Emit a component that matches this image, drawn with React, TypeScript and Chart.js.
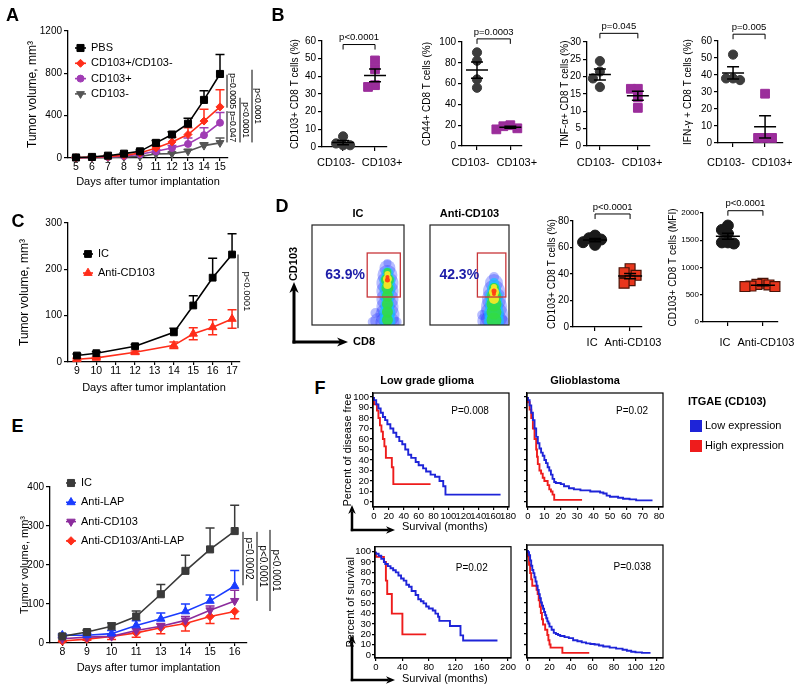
import React, { useEffect, useRef } from 'react';
import { Chart, registerables } from 'chart.js';

Chart.register(...registerables);

const FONT = '"Liberation Sans", Arial, Helvetica, sans-serif';
Chart.defaults.font.family = FONT;
Chart.defaults.color = '#000';

// ======================= DATA =======================
// ---- Panel A ----
const A_days = ['5', '6', '7', '8', '9', '11', '12', '13', '14', '15'];
const A_groups = ['PBS', 'CD103+/CD103-', 'CD103+', 'CD103-'];
const A_pbs = [5, 10, 22, 41, 63, 143, 222, 324, 549, 794];
const A_pbsErr = [3, 4, 6, 9, 12, 22, 26, 51, 86, 184];
const A_mix = [3, 8, 15, 25, 48, 95, 152, 222, 349, 483];
const A_mixErr = [2, 3, 5, 7, 10, 18, 45, 64, 111, 161];
const A_pos = [2, 5, 10, 18, 35, 63, 95, 133, 216, 333];
const A_posErr = [1, 2, 4, 6, 8, 15, 22, 57, 70, 96];
const A_neg = [2, 3, 5, 9, 15, 38, 41, 63, 117, 143];
const A_negErr = [1, 1, 2, 3, 4, 8, 10, 17, 26, 47];
const A_pText = ['p=0.0005', 'p=0.047', 'p<0.0001', 'p<0.0001'];
const A_pFrom = [787, 443, 569, 834];
const A_pTo = [475, 147, 147, 147];

// ---- Panel B ----
const B_cats = ['CD103-', 'CD103+'];
const B_titles = ['CD103+ CD8 T cells (%)', 'CD44+ CD8 T cells (%)', 'TNF-α+ CD8 T cells (%)', 'IFN-γ + CD8 T cells (%)'];
const B1_neg = [6, 2, 1, 1];
const B1_pos = [49, 44, 35, 34];
const B2_neg = [90, 82, 64, 56];
const B2_pos = [20, 19, 17, 16];
const B3_neg = [24.5, 21.5, 19.5, 17];
const B3_pos = [16.5, 16.5, 14, 11];
const B4_neg = [52, 38, 37, 38];
const B4_pos = [29, 3, 3, 3];
const B_pText = ['p<0.0001', 'p=0.0003', 'p=0.045', 'p=0.005'];
const B_bracket = [58, 103, 32.5, 64];
const B_yMax = [60, 100, 30, 60];
const B_yStep = [10, 20, 5, 10];

// ---- Panel C ----
const C_groups = ['IC', 'Anti-CD103'];
const C_days = [9, 10, 12, 14, 15, 16, 17];
const C_ticks = [9, 10, 11, 12, 13, 14, 15, 16, 17];
const C_ic = [14, 19, 34, 64, 122, 182, 232];
const C_icErr = [3, 3, 4, 9, 21, 42, 45];
const C_anti = [6, 9, 21, 36, 61, 75, 93];
const C_antiErr = [2, 2, 3, 7, 13, 16, 20];
const C_pText = ['p<0.0001'];
const C_pFrom = [232];
const C_pTo = [73];

// ---- Panel D ----
const D_cats = ['IC', 'Anti-CD103'];
const D_titles = ['CD103+ CD8 T cells (%)', 'CD103+ CD8 T cells (MFI)'];
const D1_ic = [69, 67, 66, 64, 62];
const D1_anti = [44, 41, 39, 35, 33];
const D2_ic = [1770, 1690, 1620, 1460, 1440, 1460];
const D2_anti = [710, 690, 680, 660, 650, 650];
const D_pText = ['p<0.0001', 'p<0.0001'];
const D_bracket = [85.3, 2042];
const D_flowTitles = ['IC', 'Anti-CD103'];
const D_flowPct = ['63.9%', '42.3%'];
const D_axisNames = ['CD103', 'CD8'];
// flow density layers: [CD8, CD103, radius]
const FIC_blue = [[82, 2, 12], [82, 10, 12], [82, 18, 11], [82, 26, 11], [82, 34, 11], [82, 42, 11], [82, 50, 10], [82, 57, 8], [82, 62, 4], [72, 4, 8], [69, 12, 5], [66, 3, 5], [92, 3, 5]];
const FIC_cyan = [[82, 4, 8], [82, 12, 8], [82, 20, 7], [82, 28, 7], [82, 36, 8], [82, 44, 8], [82, 52, 6]];
const FIC_green = [[82, 5, 5.5], [82, 13, 5.5], [82, 21, 5.5], [82, 29, 5.5], [82, 37, 6], [82, 45, 6.5], [82, 53, 4]];
const FIC_yellow = [[82, 40, 4], [82, 46, 4.5], [82, 51, 3]];
const FIC_red = [[82, 45, 2.5], [82, 48, 2]];
const FAN_blue = [[81, 2, 14], [81, 10, 14], [81, 18, 13], [81, 26, 12], [81, 34, 11], [81, 42, 9], [81, 48, 5], [70, 4, 8], [66, 10, 5], [92, 4, 6]];
const FAN_cyan = [[81, 4, 10], [81, 12, 10], [81, 20, 9], [81, 28, 9], [81, 36, 7], [81, 42, 5]];
const FAN_green = [[81, 5, 7.5], [81, 13, 7.5], [81, 21, 7.5], [81, 29, 7], [81, 37, 5]];
const FAN_yellow = [[81, 26, 5], [81, 33, 5], [81, 38, 3]];
const FAN_red = [[81, 34, 2.5], [81, 31, 2]];
const FIC_gate = [60, 96, 28, 72];
const FAN_gate = [60, 96, 28, 72];
const FIC_pctPos = [36, 50];
const FAN_pctPos = [37, 50];

// ---- Panel E ----
const E_days = ['8', '9', '10', '11', '13', '14', '15', '16'];
const E_groups = ['IC', 'Anti-LAP', 'Anti-CD103', 'Anti-CD103/Anti-LAP'];
const E_ic = [17, 28, 43, 68, 125, 185, 240, 287];
const E_icErr = [3, 5, 8, 14, 25, 40, 55, 66];
const E_lap = [20, 20, 24, 45, 62, 81, 108, 146];
const E_lapErr = [3, 5, 8, 12, 15, 19, 15, 40];
const E_cd = [11, 15, 17, 32, 43, 58, 84, 108];
const E_cdErr = [2, 3, 4, 5, 7, 10, 11, 27];
const E_combo = [5, 10, 17, 26, 39, 50, 68, 81];
const E_comboErr = [2, 3, 8, 11, 15, 19, 18, 19];
const E_pText = ['p=0.0002', 'p<0.0001', 'p<0.0001'];
const E_pFrom = [285, 285, 290];
const E_pTo = [148, 108, 82];

// ---- Panel F (Kaplan-Meier: [months, percent]) ----
const F_groups = ['Low expression', 'High expression'];
const F_legendTitle = 'ITGAE (CD103)';
const F_titles = ['Low grade glioma', 'Glioblastoma'];
const F_yTitles = ['Percent of disease free', 'Percent of survival'];
const F_xTitle = 'Survival (months)';
const F_pText = ['P=0.008', 'P=0.02', 'P=0.02', 'P=0.038'];
const F_pPos = [[129, 86], [63.5, 86], [145, 84], [97, 84]];
const F_yTicks = [0, 10, 20, 30, 40, 50, 60, 70, 80, 90, 100];
const F1_xTicks = [0, 20, 40, 60, 80, 100, 120, 140, 160, 180];
const F2_xTicks = [0, 10, 20, 30, 40, 50, 60, 70, 80];
const F3_xTicks = [0, 40, 80, 120, 160, 200];
const F4_xTicks = [0, 20, 40, 60, 80, 100, 120];
const F1_low = [[0, 100], [3, 97], [6, 93], [9, 89], [12, 85], [15, 81], [18, 78], [22, 74], [26, 70], [30, 66], [34, 62], [38, 58], [42, 55], [46, 50], [50, 45], [56, 42], [60, 38], [66, 35], [70, 32], [76, 29], [82, 26], [88, 24], [93, 20], [96, 15], [135, 7], [170, 7]];
const F1_high = [[0, 100], [4, 93], [6, 87], [8, 80], [10, 73], [12, 67], [14, 60], [16, 53], [24, 42], [26, 33], [35, 17], [76, 17]];
const F2_low = [[0, 100], [1, 97], [2, 92], [3, 85], [4, 78], [5, 70], [6, 62], [7, 56], [8, 51], [9, 47], [10, 44], [11, 40], [12, 37], [13, 33], [14, 30], [15, 26], [16, 22], [17, 19], [20, 18], [22, 17], [25, 15], [28, 13], [32, 12], [38, 11], [44, 10], [46, 9], [48, 8], [50, 6], [55, 5], [58, 4], [62, 3], [66, 2.5], [75, 1.5], [76, 1.5]];
const F2_high = [[0, 100], [1, 95], [2, 88], [3, 80], [4, 70], [5, 60], [5.5, 50], [6, 43], [7, 36], [8, 30], [9, 27], [10, 23], [12, 20], [13, 16], [14, 12], [15, 10], [16, 7], [33, 2]];
const F3_low = [[0, 100], [4, 98], [8, 96], [12, 93], [14, 90], [18, 88], [22, 86], [26, 84], [30, 82], [34, 80], [38, 77], [42, 74], [46, 72], [50, 68], [54, 66], [60, 62], [64, 58], [68, 54], [72, 52], [76, 50], [80, 47], [86, 45], [90, 43], [94, 40], [96, 37], [112, 33], [128, 28], [132, 19], [152, 14], [184, 14]];
const F3_high = [[0, 100], [12, 95], [15, 90], [17, 72], [24, 59], [40, 40], [43, 20], [76, 20]];
const F4_low = [[0, 100], [1, 98], [2, 95], [3, 90], [4, 85], [5, 81], [6, 78], [7, 74], [8, 70], [9, 66], [10, 62], [11, 58], [12, 54], [13, 50], [14, 47], [15, 44], [16, 41], [17, 38], [18, 35], [19, 32], [20, 30], [22, 27], [24, 24], [26, 21], [28, 20], [30, 19], [34, 18], [38, 17], [42, 16], [46, 14], [50, 13], [54, 12], [58, 11], [62, 10.5], [66, 10], [70, 9], [76, 8], [82, 7], [88, 6], [92, 5], [96, 4], [100, 3], [106, 2.5], [114, 2]];
const F4_high = [[0, 100], [1, 94], [2, 86], [3, 78], [4, 72], [8, 66], [9, 62], [10, 58], [11, 52], [12, 46], [13, 40], [14, 34], [16, 29], [18, 24], [19, 19], [20, 14], [21, 10], [32, 7], [57, 2]];

const PANEL_LETTERS = ['A', 'B', 'C', 'D', 'E', 'F'];

// ======================= HELPERS =======================
function merge(a: any, b: any): any {
  const out: any = { ...a };
  for (const k of Object.keys(b)) {
    const bv = b[k];
    const av = a[k];
    if (bv && typeof bv === 'object' && !Array.isArray(bv) && av && typeof av === 'object' && !Array.isArray(av)) out[k] = merge(av, bv);
    else out[k] = bv;
  }
  return out;
}

function axis(extra: any) {
  return merge(
    {
      grid: { display: true, drawOnChartArea: false, drawTicks: true, tickLength: 4, color: '#000', lineWidth: 1.2 },
      border: { display: true, color: '#000', width: 1.3 },
      ticks: { color: '#000', font: { size: 10 }, autoSkip: false, maxRotation: 0, padding: 2 },
    },
    extra
  );
}

const numFmt = (v: number) => String(v);
const yTitle = (text: string, size: number, pad: number) => ({ display: true, text, color: '#000', font: { size }, padding: { top: pad, bottom: 0 } });
const xTitle = (text: string, size: number, pad: number) => ({ display: true, text, color: '#000', font: { size }, padding: { top: 0, bottom: pad } });

function baseOpts(padding: any, scales: any) {
  return {
    responsive: false,
    maintainAspectRatio: false,
    animation: false,
    devicePixelRatio: 1,
    events: [],
    layout: { padding },
    plugins: { legend: { display: false }, tooltip: { enabled: false } },
    scales,
  };
}

function drawMarker(ctx: any, shape: string, x: number, y: number, r: number, rot: number, color: string) {
  ctx.save();
  ctx.translate(x, y);
  ctx.rotate((rot * Math.PI) / 180);
  ctx.fillStyle = color;
  ctx.strokeStyle = color;
  ctx.lineWidth = 1;
  ctx.beginPath();
  if (shape === 'rect') {
    const s = r * Math.SQRT1_2;
    ctx.rect(-s, -s, 2 * s, 2 * s);
  } else if (shape === 'rectRot') {
    ctx.moveTo(0, -r);
    ctx.lineTo(r, 0);
    ctx.lineTo(0, r);
    ctx.lineTo(-r, 0);
    ctx.closePath();
  } else if (shape === 'triangle') {
    for (let k = 0; k < 3; k++) {
      const a = (k * 2 * Math.PI) / 3;
      const px = Math.sin(a) * r;
      const py = -Math.cos(a) * r;
      if (k) ctx.lineTo(px, py);
      else ctx.moveTo(px, py);
    }
    ctx.closePath();
  } else {
    ctx.arc(0, 0, r, 0, Math.PI * 2);
  }
  ctx.fill();
  ctx.stroke();
  ctx.restore();
}

function arrow(ctx: any, x1: number, y1: number, x2: number, y2: number, lw: number, head: number) {
  const ang = Math.atan2(y2 - y1, x2 - x1);
  const c = Math.cos(ang);
  const s = Math.sin(ang);
  ctx.save();
  ctx.strokeStyle = '#000';
  ctx.fillStyle = '#000';
  ctx.lineWidth = lw;
  ctx.beginPath();
  ctx.moveTo(x1, y1);
  ctx.lineTo(x2 - c * head * 0.7, y2 - s * head * 0.7);
  ctx.stroke();
  ctx.beginPath();
  ctx.moveTo(x2, y2);
  ctx.lineTo(x2 - head * c + head * 0.42 * s, y2 - head * s - head * 0.42 * c);
  ctx.lineTo(x2 - head * 0.7 * c, y2 - head * 0.7 * s);
  ctx.lineTo(x2 - head * c - head * 0.42 * s, y2 - head * s + head * 0.42 * c);
  ctx.closePath();
  ctx.fill();
  ctx.restore();
}

function lineDs(label: string, data: any[], color: string, shape: string, r: number, rot = 0) {
  return {
    label,
    data,
    borderColor: color,
    backgroundColor: color,
    pointBackgroundColor: color,
    pointBorderColor: color,
    pointStyle: shape,
    pointRadius: r,
    pointRotation: rot,
    pointBorderWidth: 1,
    borderWidth: 1.6,
    tension: 0,
    fill: false,
    clip: false,
  };
}

// ---- plugins ----
function errPlugin(errs: any[], cap: number) {
  return {
    id: 'errbars',
    beforeDatasetsDraw(chart: any) {
      const { ctx } = chart;
      const ys = chart.scales.y;
      errs.forEach((e: any, di: number) => {
        const meta = chart.getDatasetMeta(di);
        const ds = chart.data.datasets[di];
        ctx.save();
        ctx.strokeStyle = ds.borderColor;
        ctx.lineWidth = 1.5;
        meta.data.forEach((pt: any, j: number) => {
          const raw = ds.data[j];
          const v = typeof raw === 'number' ? raw : raw.y;
          const pairs: any[] = [[e.up, 1], [e.dn, -1]];
          for (const [arr, sg] of pairs) {
            if (!arr || !arr[j]) continue;
            const ye = ys.getPixelForValue(v + sg * arr[j]);
            ctx.beginPath();
            ctx.moveTo(pt.x, pt.y);
            ctx.lineTo(pt.x, ye);
            ctx.moveTo(pt.x - cap, ye);
            ctx.lineTo(pt.x + cap, ye);
            ctx.stroke();
          }
        });
        ctx.restore();
      });
    },
  };
}

function legendPlugin(dx: number, dy: number, gap: number, lineLen: number) {
  return {
    id: 'plegend',
    afterDraw(chart: any) {
      const { ctx, chartArea } = chart;
      chart.data.datasets.forEach((ds: any, i: number) => {
        const x = chartArea.left + dx;
        const y = chartArea.top + dy + i * gap;
        ctx.save();
        ctx.strokeStyle = ds.borderColor;
        ctx.lineWidth = 1.6;
        ctx.beginPath();
        ctx.moveTo(x, y);
        ctx.lineTo(x + lineLen, y);
        ctx.stroke();
        drawMarker(ctx, ds.pointStyle, x + lineLen / 2, y, ds.pointRadius, ds.pointRotation || 0, ds.borderColor);
        ctx.fillStyle = '#000';
        ctx.font = `11px ${FONT}`;
        ctx.textBaseline = 'middle';
        ctx.textAlign = 'left';
        ctx.fillText(ds.label, x + lineLen + 5, y);
        ctx.restore();
      });
    },
  };
}

function pLinesPlugin(texts: string[], from: number[], to: number[], offs: number[], textOff: number, size: number) {
  return {
    id: 'plines',
    afterDraw(chart: any) {
      const { ctx, chartArea } = chart;
      const ys = chart.scales.y;
      texts.forEach((t, i) => {
        const x = chartArea.right + offs[i];
        const y1 = ys.getPixelForValue(from[i]);
        const y2 = ys.getPixelForValue(to[i]);
        ctx.save();
        ctx.strokeStyle = '#000';
        ctx.lineWidth = 1;
        ctx.beginPath();
        ctx.moveTo(x, y1);
        ctx.lineTo(x, y2);
        ctx.stroke();
        ctx.translate(x + textOff, (y1 + y2) / 2);
        ctx.rotate(Math.PI / 2);
        ctx.font = `${size}px ${FONT}`;
        ctx.fillStyle = '#000';
        ctx.textAlign = 'center';
        ctx.textBaseline = 'middle';
        ctx.fillText(t, 0, 0);
        ctx.restore();
      });
    },
  };
}

function meanSemPlugin(groups: number[][], half: number, capHalf: number) {
  return {
    id: 'meansem',
    afterDatasetsDraw(chart: any) {
      const { ctx } = chart;
      const xs = chart.scales.x;
      const ys = chart.scales.y;
      groups.forEach((vals, gi) => {
        const n = vals.length;
        const m = vals.reduce((a, b) => a + b, 0) / n;
        const sd = Math.sqrt(vals.reduce((a, b) => a + (b - m) * (b - m), 0) / (n - 1));
        const sem = sd / Math.sqrt(n);
        const x = xs.getPixelForValue(gi);
        const ym = ys.getPixelForValue(m);
        const yt = ys.getPixelForValue(m + sem);
        const yb = ys.getPixelForValue(m - sem);
        ctx.save();
        ctx.strokeStyle = '#000';
        ctx.lineWidth = 1.5;
        ctx.beginPath();
        ctx.moveTo(x - half, ym);
        ctx.lineTo(x + half, ym);
        ctx.moveTo(x, yt);
        ctx.lineTo(x, yb);
        ctx.moveTo(x - capHalf, yt);
        ctx.lineTo(x + capHalf, yt);
        ctx.moveTo(x - capHalf, yb);
        ctx.lineTo(x + capHalf, yb);
        ctx.stroke();
        ctx.restore();
      });
    },
  };
}

function bracketPlugin(yVal: number, text: string) {
  return {
    id: 'bracket',
    afterDraw(chart: any) {
      const { ctx } = chart;
      const xs = chart.scales.x;
      const ys = chart.scales.y;
      const x0 = xs.getPixelForValue(0);
      const x1 = xs.getPixelForValue(1);
      const y = ys.getPixelForValue(yVal);
      ctx.save();
      ctx.strokeStyle = '#000';
      ctx.lineWidth = 1;
      ctx.beginPath();
      ctx.moveTo(x0, y + 5);
      ctx.lineTo(x0, y);
      ctx.lineTo(x1, y);
      ctx.lineTo(x1, y + 5);
      ctx.stroke();
      ctx.fillStyle = '#000';
      ctx.font = `9.5px ${FONT}`;
      ctx.textAlign = 'center';
      ctx.textBaseline = 'middle';
      ctx.fillText(text, (x0 + x1) / 2, y - 7);
      ctx.restore();
    },
  };
}

// category labels under a two-group dot plot, pushed apart when they would touch
function catLabelsPlugin(cats: string[], dy: number, gap: number) {
  return {
    id: 'catlabels',
    afterDraw(chart: any) {
      const { ctx, chartArea } = chart;
      const xs = chart.scales.x;
      ctx.save();
      ctx.font = `11px ${FONT}`;
      ctx.fillStyle = '#000';
      ctx.textAlign = 'center';
      ctx.textBaseline = 'middle';
      const x0 = xs.getPixelForValue(0);
      const x1 = xs.getPixelForValue(1);
      const w0 = ctx.measureText(cats[0]).width;
      const w1 = ctx.measureText(cats[1]).width;
      const need = w0 / 2 + w1 / 2 + gap - (x1 - x0);
      const sh = need > 0 ? need / 2 : 0;
      const y = chartArea.bottom + dy;
      ctx.fillText(cats[0], x0 - sh, y);
      ctx.fillText(cats[1], x1 + sh, y);
      ctx.restore();
    },
  };
}

function swarm(vals: number[], tol: number, step: number): number[] {
  const offs = vals.map(() => 0);
  const order = vals.map((_, i) => i).sort((a, b) => vals[b] - vals[a]);
  const done: number[] = [];
  const cands = [0, -1, 1, -2, 2, -3, 3];
  for (const i of order) {
    const near = done.filter((j) => Math.abs(vals[j] - vals[i]) < tol);
    for (const c of cands) {
      if (!near.some((j) => Math.abs(offs[j] - c * step) < step * 0.5)) {
        offs[i] = c * step;
        break;
      }
    }
    done.push(i);
  }
  return offs;
}

function dotConfig(o: any) {
  const plotH = o.h - o.pad.top - o.xH;
  const plotW = o.w - o.yW - o.pad.right;
  const tol = (o.tolPx * o.yMax) / plotH;
  const step = (o.stepPx * (o.xMax - o.xMin)) / plotW;
  const datasets = o.groups.map((vals: number[], gi: number) => {
    const offs = swarm(vals, tol, step);
    const st = o.styles[gi];
    return {
      label: o.cats[gi],
      data: vals.map((v, k) => ({ x: gi + offs[k], y: v })),
      pointStyle: st.shape,
      pointRadius: st.r,
      pointBackgroundColor: st.fill,
      pointBorderColor: st.stroke,
      pointBorderWidth: st.bw,
      backgroundColor: st.fill,
      borderColor: st.stroke,
      clip: false,
    };
  });
  return {
    type: 'scatter',
    data: { datasets },
    options: baseOpts(o.pad, {
      x: axis({
        type: 'linear',
        min: o.xMin,
        max: o.xMax,
        afterBuildTicks: (s: any) => {
          s.ticks = o.cats.map((_: string, i: number) => ({ value: i }));
        },
        ticks: { display: false },
        afterFit: (s: any) => {
          s.height = o.xH;
        },
      }),
      y: axis({
        type: 'linear',
        min: 0,
        max: o.yMax,
        grid: { tickLength: o.yTickLen || 4 },
        ticks: { stepSize: o.yStep, callback: numFmt, padding: o.yTickPad ?? 2, font: { size: o.yTickSize || 10 } },
        title: yTitle(o.title, 10, o.titlePad),
        afterFit: (s: any) => {
          s.width = o.yW;
        },
      }),
    }),
    plugins: [meanSemPlugin(o.groups, o.meanHalf, 6), bracketPlugin(o.bracketY, o.pText), catLabelsPlugin(o.cats, o.labelDy, 7)],
  };
}

const B_circle = { shape: 'circle', r: 4.6, fill: '#3c3c3c', stroke: '#3c3c3c', bw: 1 };
const B_square = { shape: 'rect', r: 6.2, fill: '#9b2d9b', stroke: '#9b2d9b', bw: 1 };
const D_circle = { shape: 'circle', r: 5.5, fill: '#1a1a1a', stroke: '#1a1a1a', bw: 1 };
const D_square = { shape: 'rect', r: 7, fill: '#e8361c', stroke: '#4a1408', bw: 1.2 };

const B_layout = [
  { left: 280, w: 125, yW: 42, padTop: 26, xH: 33, titlePad: 9, labelDy: 16, xMin: -0.66, xMax: 1.375, plotW: 65 },
  { left: 410, w: 130, yW: 52, padTop: 27, xH: 34, titlePad: 11, labelDy: 17, xMin: -0.45, xMax: 1.35, plotW: 60 },
  { left: 545, w: 123, yW: 42, padTop: 27, xH: 34, titlePad: 14, labelDy: 17, xMin: -0.34, xMax: 1.32, plotW: 63 },
  { left: 672, w: 128, yW: 46, padTop: 26, xH: 37, titlePad: 10, labelDy: 20, xMin: -0.47, xMax: 1.56, plotW: 65 },
];
const B_data = [
  [B1_neg, B1_pos],
  [B2_neg, B2_pos],
  [B3_neg, B3_pos],
  [B4_neg, B4_pos],
];

function bConfig(i: number) {
  const L = B_layout[i];
  return dotConfig({
    cats: B_cats,
    groups: B_data[i],
    styles: [B_circle, B_square],
    w: L.w,
    h: 165,
    yW: L.yW,
    xH: L.xH,
    pad: { left: 0, top: L.padTop, right: L.w - L.yW - L.plotW, bottom: 0 },
    yMax: B_yMax[i],
    yStep: B_yStep[i],
    xMin: L.xMin,
    xMax: L.xMax,
    title: B_titles[i],
    titlePad: L.titlePad,
    labelDy: L.labelDy,
    bracketY: B_bracket[i],
    pText: B_pText[i],
    tolPx: 8,
    stepPx: 7,
    meanHalf: 11,
  });
}

function dConfig(i: number) {
  const common = { cats: D_cats, styles: [D_circle, D_square], tolPx: 7, stepPx: 6, meanHalf: 12, yTickLen: 3, yTickPad: 1 };
  if (i === 0)
    return dotConfig({
      ...common,
      groups: [D1_ic, D1_anti],
      w: 125,
      h: 165,
      yW: 33,
      xH: 28,
      pad: { left: 0, top: 31, right: 23, bottom: 0 },
      yMax: 80,
      yStep: 20,
      xMin: -0.63,
      xMax: 1.34,
      title: D_titles[0],
      titlePad: 6,
      labelDy: 16,
      bracketY: D_bracket[0],
      pText: D_pText[0],
    });
  return dotConfig({
    ...common,
    groups: [D2_ic, D2_anti],
    w: 140,
    h: 170,
    yW: 43,
    xH: 33,
    pad: { left: 0, top: 28, right: 22, bottom: 0 },
    yMax: 2000,
    yStep: 500,
    yTickSize: 8,
    xMin: -0.71,
    xMax: 1.43,
    title: D_titles[1],
    titlePad: 7,
    labelDy: 21,
    bracketY: D_bracket[1],
    pText: D_pText[1],
  });
}

// ---- Panel A config ----
function cfgA() {
  return {
    type: 'line',
    data: {
      labels: A_days,
      datasets: [
        lineDs(A_groups[0], A_pbs, '#000000', 'rect', 5),
        lineDs(A_groups[1], A_mix, '#ff2d1a', 'rectRot', 4),
        lineDs(A_groups[2], A_pos, '#a03cb4', 'circle', 3.5),
        lineDs(A_groups[3], A_neg, '#555555', 'triangle', 4.5, 180),
      ],
    },
    options: baseOpts(
      { left: 0, top: 31, right: 52, bottom: 0 },
      {
        x: axis({
          type: 'category',
          offset: true,
          grid: { tickLength: 3 },
          ticks: { padding: 0, font: { size: 10.5 } },
          title: xTitle('Days after tumor implantation', 11, 11.4),
          afterFit: (s: any) => {
            s.height = 42;
          },
        }),
        y: axis({
          min: 0,
          max: 1200,
          ticks: { stepSize: 400, callback: numFmt },
          title: yTitle('Tumor volume, mm³', 12, 25.8),
          afterFit: (s: any) => {
            s.width = 68;
          },
        }),
      }
    ),
    plugins: [
      errPlugin([{ up: A_pbsErr }, { up: A_mixErr }, { up: A_posErr }, { up: A_negErr }], 4.5),
      legendPlugin(7, 17, 15.3, 11),
      pLinesPlugin(A_pText, A_pFrom, A_pTo, [-1, -1, 12, 24], 5, 8.5),
    ],
  };
}

// ---- Panel C config ----
function cfgC() {
  return {
    type: 'line',
    data: {
      datasets: [
        lineDs(C_groups[0], C_days.map((d, i) => ({ x: d, y: C_ic[i] })), '#000000', 'rect', 4.8),
        lineDs(C_groups[1], C_days.map((d, i) => ({ x: d, y: C_anti[i] })), '#ff2d1a', 'triangle', 4.8),
      ],
    },
    options: baseOpts(
      { left: 0, top: 18, right: 40, bottom: 0 },
      {
        x: axis({
          type: 'linear',
          min: 8.54,
          max: 17.41,
          afterBuildTicks: (s: any) => {
            s.ticks = C_ticks.map((v) => ({ value: v }));
          },
          grid: { tickLength: 3 },
          ticks: { padding: 0, font: { size: 10.5 }, callback: numFmt },
          title: xTitle('Days after tumor implantation', 11, 5.4),
          afterFit: (s: any) => {
            s.height = 38;
          },
        }),
        y: axis({
          min: 0,
          max: 300,
          ticks: { stepSize: 100, callback: numFmt },
          title: yTitle('Tumor volume, mm³', 12, 17.8),
          afterFit: (s: any) => {
            s.width = 68;
          },
        }),
      }
    ),
    plugins: [
      errPlugin([{ up: C_icErr }, { up: C_antiErr, dn: C_antiErr }], 4.5),
      legendPlugin(15, 31, 19, 10),
      pLinesPlugin(C_pText, C_pFrom, C_pTo, [-2], 9, 9.5),
    ],
  };
}

// ---- Panel E config ----
function cfgE() {
  return {
    type: 'line',
    data: {
      labels: E_days,
      datasets: [
        lineDs(E_groups[0], E_ic, '#3a3a3a', 'rect', 5),
        lineDs(E_groups[1], E_lap, '#1a3cff', 'triangle', 4.8),
        lineDs(E_groups[2], E_cd, '#8b2c9c', 'triangle', 4.8, 180),
        lineDs(E_groups[3], E_combo, '#ff2d1a', 'rectRot', 4.2),
      ],
    },
    options: baseOpts(
      { left: 0, top: 27, right: 53, bottom: 0 },
      {
        x: axis({
          type: 'category',
          offset: true,
          grid: { tickLength: 3 },
          ticks: { padding: 0, font: { size: 10.5 } },
          title: xTitle('Days after tumor implantation', 11, 18.4),
          afterFit: (s: any) => {
            s.height = 50;
          },
        }),
        y: axis({
          min: 0,
          max: 400,
          ticks: { stepSize: 100, callback: numFmt },
          title: yTitle('Tumor volume, mm³', 11, 18.4),
          afterFit: (s: any) => {
            s.width = 50;
          },
        }),
      }
    ),
    plugins: [
      errPlugin([{ up: E_icErr }, { up: E_lapErr }, { up: E_cdErr }, { dn: E_comboErr }], 4.5),
      legendPlugin(16, -4, 19.3, 10),
      pLinesPlugin(E_pText, E_pFrom, E_pTo, [-4, 10, 23], 6, 10),
    ],
  };
}

// ---- Panel D flow configs ----
function flowDeco(o: any) {
  return {
    id: 'flowdeco',
    afterDraw(chart: any) {
      const { ctx, chartArea: ca } = chart;
      const x = chart.scales.x;
      const y = chart.scales.y;
      ctx.save();
      ctx.strokeStyle = '#222';
      ctx.lineWidth = 1.2;
      ctx.strokeRect(ca.left, ca.top, ca.right - ca.left, ca.bottom - ca.top);
      const gx1 = x.getPixelForValue(o.gate[0]);
      const gx2 = x.getPixelForValue(o.gate[1]);
      const gy1 = y.getPixelForValue(o.gate[2]);
      const gy2 = y.getPixelForValue(o.gate[3]);
      ctx.strokeStyle = '#c8363a';
      ctx.lineWidth = 1.3;
      ctx.strokeRect(gx1, gy2, gx2 - gx1, gy1 - gy2);
      ctx.fillStyle = '#1c1ca8';
      ctx.font = `bold 14px ${FONT}`;
      ctx.textAlign = 'center';
      ctx.textBaseline = 'middle';
      ctx.fillText(o.pct, x.getPixelForValue(o.pctPos[0]), y.getPixelForValue(o.pctPos[1]));
      ctx.fillStyle = '#000';
      ctx.font = `bold 11px ${FONT}`;
      ctx.fillText(o.title, (ca.left + ca.right) / 2, ca.top - 11);
      if (o.axes) {
        const ox = ca.left - 18;
        const oy = ca.bottom + 17;
        arrow(ctx, ox, oy + 1.5, ox, ca.bottom - 43, 3, 11);
        arrow(ctx, ox - 1.5, oy, ca.left + 36, oy, 3, 11);
        ctx.fillStyle = '#000';
        ctx.font = `bold 11px ${FONT}`;
        ctx.textAlign = 'center';
        ctx.textBaseline = 'middle';
        ctx.fillText(D_axisNames[1], ca.left + 52, oy);
        ctx.save();
        ctx.translate(ox, ca.bottom - 61);
        ctx.rotate(-Math.PI / 2);
        ctx.fillText(D_axisNames[0], 0, 0);
        ctx.restore();
      }
      ctx.restore();
    },
  };
}

// layers are given low-density first; Chart.js paints the last dataset first, so reverse them
function flowConfig(layers: number[][][], gate: number[], pct: string, pctPos: number[], title: string, padding: any, axes: boolean) {
  const colors = ['rgba(35,55,255,0.33)', 'rgba(20,195,255,0.7)', 'rgba(50,220,70,0.9)', 'rgba(245,232,40,0.95)', 'rgba(255,60,20,0.95)'];
  const ds = layers.map((l, i) => ({
    data: l.map(([x, y, r]) => ({ x, y, r })),
    backgroundColor: colors[i],
    borderWidth: 0,
    borderColor: 'rgba(0,0,0,0)',
    clip: 0,
  }));
  return {
    type: 'bubble',
    data: { datasets: ds.reverse() },
    options: baseOpts(padding, {
      x: { type: 'linear', min: 0, max: 100, display: false },
      y: { type: 'linear', min: 0, max: 100, display: false },
    }),
    plugins: [flowDeco({ gate, pct, pctPos, title, axes })],
  };
}

// ---- Panel F configs ----
const KM_BLUE = '#1e24d8';
const KM_RED = '#ee1c1c';

function kmDeco(o: any) {
  return {
    id: 'kmdeco',
    afterDraw(chart: any) {
      const { ctx, chartArea: ca } = chart;
      const xs = chart.scales.x;
      const ys = chart.scales.y;
      ctx.save();
      ctx.strokeStyle = '#000';
      ctx.lineWidth = 1.2;
      ctx.strokeRect(ca.left, ca.top, ca.right - ca.left, ca.bottom - ca.top);
      ctx.fillStyle = '#000';
      ctx.textBaseline = 'middle';
      if (o.title) {
        ctx.font = `bold 11px ${FONT}`;
        ctx.textAlign = 'center';
        ctx.fillText(o.title, ca.left + o.titleDx, ca.top - 12);
      }
      ctx.font = `10px ${FONT}`;
      ctx.textAlign = 'center';
      ctx.fillText(o.p, xs.getPixelForValue(o.pPos[0]), ys.getPixelForValue(o.pPos[1]));
      if (o.arrows) {
        const a = o.arrows;
        const ox = ca.left + a.ox;
        const oy = ca.bottom + a.oy;
        arrow(ctx, ox, oy + 1.2, ox, ca.bottom + a.top, 2.5, 9);
        arrow(ctx, ox - 1.2, oy, ca.left + a.right, oy, 2.5, 9);
        ctx.fillStyle = '#000';
        ctx.font = `11px ${FONT}`;
        ctx.textAlign = 'left';
        ctx.fillText(F_xTitle, ca.left + a.tx, ca.bottom + a.ty);
      }
      if (o.legend) {
        ctx.font = `bold 11px ${FONT}`;
        ctx.textAlign = 'left';
        ctx.fillText(F_legendTitle, ca.left + 161, ca.top + 9);
        chart.data.datasets.forEach((ds: any, i: number) => {
          const yy = ca.top + 33 + i * 20;
          ctx.fillStyle = ds.borderColor;
          ctx.fillRect(ca.left + 163, yy - 6, 12, 12);
          ctx.fillStyle = '#000';
          ctx.font = `11px ${FONT}`;
          ctx.fillText(ds.label, ca.left + 178, yy);
        });
      }
      ctx.restore();
    },
  };
}

function kmConfig(o: any) {
  const mk = (label: string, pts: number[][], color: string, order: number) => ({
    label,
    data: pts.map(([x, y]) => ({ x, y })),
    borderColor: color,
    backgroundColor: color,
    borderWidth: 1.9,
    stepped: 'after',
    pointRadius: 0,
    order,
    fill: false,
    clip: false,
  });
  return {
    type: 'line',
    data: { datasets: [mk(F_groups[0], o.low, KM_BLUE, 0), mk(F_groups[1], o.high, KM_RED, 1)] },
    options: baseOpts(o.pad, {
      x: axis({
        type: 'linear',
        min: o.xMin,
        max: o.xMax,
        afterBuildTicks: (s: any) => {
          s.ticks = o.xTicks.map((v: number) => ({ value: v }));
        },
        grid: { tickLength: 3 },
        ticks: { font: { size: 9.5 }, padding: 1, callback: numFmt },
        afterFit: (s: any) => {
          s.height = o.xH;
        },
      }),
      y: axis({
        type: 'linear',
        min: o.yMin,
        max: o.yMax,
        afterBuildTicks: (s: any) => {
          s.ticks = F_yTicks.map((v) => ({ value: v }));
        },
        grid: { tickLength: 3 },
        ticks: { display: o.showY, font: { size: 9.5 }, padding: 1, callback: numFmt },
        title: o.yTitle ? yTitle(o.yTitle, 11, o.yTitlePad) : { display: false },
        afterFit: (s: any) => {
          s.width = o.yW;
        },
      }),
    }),
    plugins: [kmDeco(o)],
  };
}

const cfgF1 = () =>
  kmConfig({
    low: F1_low, high: F1_high, xMin: -1.3, xMax: 181.3, xTicks: F1_xTicks, yMin: -4.8, yMax: 103.8, showY: true,
    yW: 38, xH: 33, pad: { left: 0, top: 23, right: 11, bottom: 0 }, yTitle: F_yTitles[0], yTitlePad: 6.4,
    title: F_titles[0], titleDx: 54, p: F_pText[0], pPos: F_pPos[0],
    arrows: { ox: -21, oy: 23, top: -2, right: 22, tx: 29, ty: 20 },
  });
const cfgF2 = () =>
  kmConfig({
    low: F2_low, high: F2_high, xMin: -0.6, xMax: 82.4, xTicks: F2_xTicks, yMin: -4.8, yMax: 103.8, showY: false,
    yW: 10, xH: 33, pad: { left: 0, top: 23, right: 137, bottom: 0 },
    title: F_titles[1], titleDx: 58, p: F_pText[1], pPos: F_pPos[1], legend: true,
  });
const cfgF3 = () =>
  kmConfig({
    low: F3_low, high: F3_high, xMin: -1.5, xMax: 204.5, xTicks: F3_xTicks, yMin: -2.9, yMax: 104.8, showY: true,
    yW: 40, xH: 35, pad: { left: 0, top: 5, right: 9, bottom: 0 }, yTitle: F_yTitles[1], yTitlePad: 9.4,
    p: F_pText[2], pPos: F_pPos[2],
    arrows: { ox: -23, oy: 22, top: -23, right: 20, tx: 27, ty: 21 },
  });
const cfgF4 = () =>
  kmConfig({
    low: F4_low, high: F4_high, xMin: -0.9, xMax: 125.6, xTicks: F4_xTicks, yMin: -2.9, yMax: 104.8, showY: false,
    yW: 10, xH: 35, pad: { left: 0, top: 5, right: 14, bottom: 0 },
    p: F_pText[3], pPos: F_pPos[3],
  });

const cfgFlow1 = () =>
  flowConfig([FIC_blue, FIC_cyan, FIC_green, FIC_yellow, FIC_red], FIC_gate, D_flowPct[0], FIC_pctPos, D_flowTitles[0], { left: 28, top: 30, right: 5, bottom: 30 }, true);
const cfgFlow2 = () =>
  flowConfig([FAN_blue, FAN_cyan, FAN_green, FAN_yellow, FAN_red], FAN_gate, D_flowPct[1], FAN_pctPos, D_flowTitles[1], { left: 3, top: 30, right: 5, bottom: 30 }, false);

// ======================= COMPONENTS =======================
function ChartBox({ left, top, w, h, make }: any) {
  const ref = useRef<HTMLCanvasElement | null>(null);
  useEffect(() => {
    if (!ref.current) return;
    const chart = new Chart(ref.current, make());
    return () => chart.destroy();
  }, []);
  return (
    <div style={{ position: 'absolute', left, top, width: w, height: h }}>
      <canvas ref={ref} width={w} height={h} style={{ width: w, height: h, display: 'block' }} />
    </div>
  );
}

const LETTER_POS = [
  [6, 6],
  [271.5, 6],
  [11.5, 212],
  [275.5, 197],
  [11.5, 417],
  [314.5, 379],
];

export default function App() {
  return (
    <div style={{ position: 'absolute', left: 0, top: 0, width: 800, height: 693, background: '#fff', overflow: 'hidden', fontFamily: FONT }}>
      <ChartBox left={0} top={0} w={280} h={200} make={cfgA} />
      <ChartBox left={280} top={15} w={125} h={165} make={() => bConfig(0)} />
      <ChartBox left={410} top={15} w={130} h={165} make={() => bConfig(1)} />
      <ChartBox left={545} top={15} w={123} h={165} make={() => bConfig(2)} />
      <ChartBox left={672} top={15} w={128} h={165} make={() => bConfig(3)} />
      <ChartBox left={0} top={205} w={280} h={195} make={cfgC} />
      <ChartBox left={284} top={195} w={132} h={160} make={cfgFlow1} />
      <ChartBox left={416} top={195} w={107} h={160} make={cfgFlow2} />
      <ChartBox left={540} top={190} w={125} h={165} make={() => dConfig(0)} />
      <ChartBox left={660} top={185} w={140} h={170} make={() => dConfig(1)} />
      <ChartBox left={0} top={460} w={300} h={233} make={cfgE} />
      <ChartBox left={335} top={370} w={185} h={170} make={cfgF1} />
      <ChartBox left={517} top={370} w={283} h={170} make={cfgF2} />
      <ChartBox left={335} top={540} w={185} h={153} make={cfgF3} />
      <ChartBox left={517} top={540} w={160} h={153} make={cfgF4} />
      {PANEL_LETTERS.map((l, i) => (
        <div
          key={l}
          style={{ position: 'absolute', left: LETTER_POS[i][0], top: LETTER_POS[i][1], fontSize: 18, lineHeight: '18px', fontWeight: 'bold', color: '#000', fontFamily: FONT }}
        >
          {l}
        </div>
      ))}
    </div>
  );
}
